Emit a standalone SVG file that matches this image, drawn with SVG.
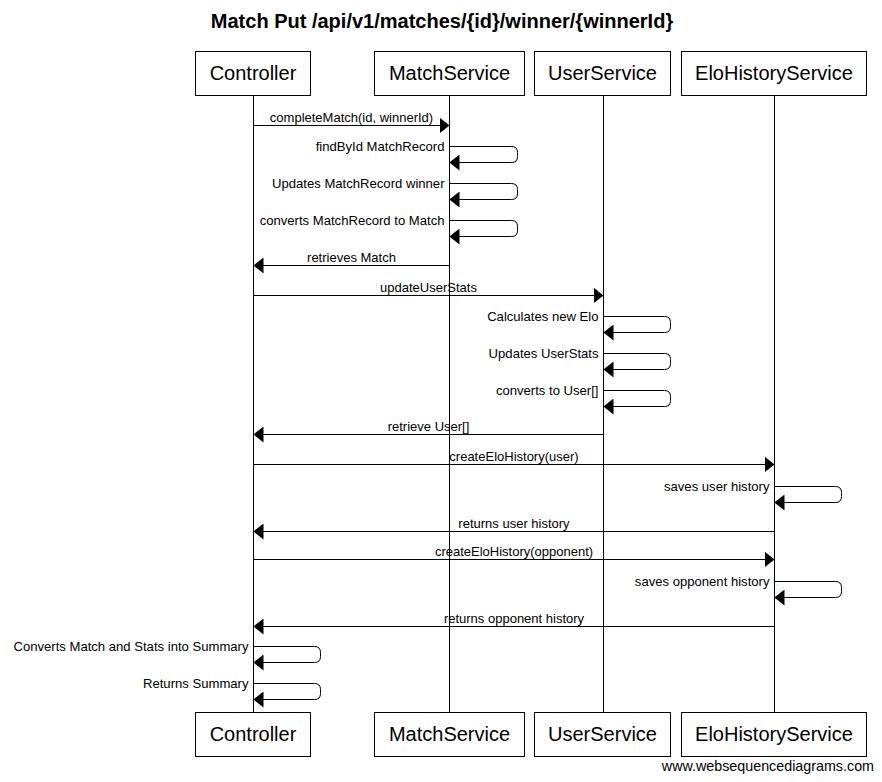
<svg xmlns="http://www.w3.org/2000/svg" width="882" height="782" viewBox="0 0 882 782">
<style>
.box{fill:#fff;stroke:#000;stroke-width:1}
.pt{font-family:"Liberation Sans",Arial,sans-serif;font-size:20px;text-anchor:middle;fill:#000}
.life{stroke:#000;stroke-width:1}
.msg{fill:none;stroke:#000;stroke-width:1;marker-end:url(#ah)}
.lbl{font-family:"Liberation Sans",Arial,sans-serif;font-size:13px;fill:#000;text-anchor:middle}
.sl{font-family:"Liberation Sans",Arial,sans-serif;font-size:13.1px;fill:#000;text-anchor:end}
.title{font-family:"Liberation Sans",Arial,sans-serif;font-size:20px;font-weight:bold;text-anchor:middle;fill:#000}
.foot{font-family:"Liberation Sans",Arial,sans-serif;font-size:14.3px;text-anchor:end;fill:#000}
</style>
<defs>
<marker id="ah" markerUnits="userSpaceOnUse" markerWidth="10" markerHeight="16" refX="10" refY="8" orient="auto" viewBox="0 0 10 16">
<path d="M0,0 L10,8 L0,16 Z" fill="#000"/>
</marker>
</defs>
<rect width="882" height="782" fill="#fff"/>
<text class="title" x="442" y="28">Match Put /api/v1/matches/{id}/winner/{winnerId}</text>
<g id="lifelines">
<line class="life" x1="253.5" y1="96" x2="253.5" y2="712"/>
<line class="life" x1="449.5" y1="96" x2="449.5" y2="712"/>
<line class="life" x1="603.5" y1="96" x2="603.5" y2="712"/>
<line class="life" x1="774.5" y1="96" x2="774.5" y2="712"/>
</g>
<g id="Controller">
<rect class="box" x="195.5" y="51.5" width="115" height="44"/>
<text class="pt" x="253" y="80">Controller</text>
<rect class="box" x="195.5" y="712.5" width="115" height="44"/>
<text class="pt" x="253" y="741">Controller</text>
</g>
<g id="MatchService">
<rect class="box" x="374.5" y="51.5" width="150" height="44"/>
<text class="pt" x="449.5" y="80">MatchService</text>
<rect class="box" x="374.5" y="712.5" width="150" height="44"/>
<text class="pt" x="449.5" y="741">MatchService</text>
</g>
<g id="UserService">
<rect class="box" x="534.5" y="51.5" width="136" height="44"/>
<text class="pt" x="602.5" y="80">UserService</text>
<rect class="box" x="534.5" y="712.5" width="136" height="44"/>
<text class="pt" x="602.5" y="741">UserService</text>
</g>
<g id="EloHistoryService">
<rect class="box" x="681.5" y="51.5" width="185" height="44"/>
<text class="pt" x="774" y="80">EloHistoryService</text>
<rect class="box" x="681.5" y="712.5" width="185" height="44"/>
<text class="pt" x="774" y="741">EloHistoryService</text>
</g>
<g id="connectors">
<path class="msg" d="M253.5,125.5 H449.5"/>
<text class="lbl" x="351.5" y="122">completeMatch(id, winnerId)</text>
<path class="msg" d="M449.5,146.5 H511.5 Q517.5,146.5 517.5,152.5 V156.5 Q517.5,162.5 511.5,162.5 H449.5"/>
<text class="sl" x="444.5" y="151">findById MatchRecord</text>
<path class="msg" d="M449.5,183.5 H511.5 Q517.5,183.5 517.5,189.5 V193.5 Q517.5,199.5 511.5,199.5 H449.5"/>
<text class="sl" x="444.5" y="188">Updates MatchRecord winner</text>
<path class="msg" d="M449.5,220.5 H511.5 Q517.5,220.5 517.5,226.5 V230.5 Q517.5,236.5 511.5,236.5 H449.5"/>
<text class="sl" x="444.5" y="225">converts MatchRecord to Match</text>
<path class="msg" d="M449.5,265.5 H253.5"/>
<text class="lbl" x="351.5" y="262">retrieves Match</text>
<path class="msg" d="M253.5,295.5 H603.5"/>
<text class="lbl" x="428.5" y="292">updateUserStats</text>
<path class="msg" d="M603.5,316.5 H664.5 Q670.5,316.5 670.5,322.5 V326.5 Q670.5,332.5 664.5,332.5 H603.5"/>
<text class="sl" x="598.5" y="321">Calculates new Elo</text>
<path class="msg" d="M603.5,353.5 H664.5 Q670.5,353.5 670.5,359.5 V363.5 Q670.5,369.5 664.5,369.5 H603.5"/>
<text class="sl" x="598.5" y="358">Updates UserStats</text>
<path class="msg" d="M603.5,390.5 H664.5 Q670.5,390.5 670.5,396.5 V400.5 Q670.5,406.5 664.5,406.5 H603.5"/>
<text class="sl" x="598.5" y="395">converts to User[]</text>
<path class="msg" d="M603.5,434.5 H253.5"/>
<text class="lbl" x="428.5" y="431">retrieve User[]</text>
<path class="msg" d="M253.5,464.5 H774.5"/>
<text class="lbl" x="514" y="461">createEloHistory(user)</text>
<path class="msg" d="M774.5,486.5 H835.5 Q841.5,486.5 841.5,492.5 V496.5 Q841.5,502.5 835.5,502.5 H774.5"/>
<text class="sl" x="769.5" y="491">saves user history</text>
<path class="msg" d="M774.5,531.5 H253.5"/>
<text class="lbl" x="514" y="528">returns user history</text>
<path class="msg" d="M253.5,559.5 H774.5"/>
<text class="lbl" x="514" y="556">createEloHistory(opponent)</text>
<path class="msg" d="M774.5,581.5 H835.5 Q841.5,581.5 841.5,587.5 V591.5 Q841.5,597.5 835.5,597.5 H774.5"/>
<text class="sl" x="769.5" y="586">saves opponent history</text>
<path class="msg" d="M774.5,626.5 H253.5"/>
<text class="lbl" x="514" y="623">returns opponent history</text>
<path class="msg" d="M253.5,646.5 H314.5 Q320.5,646.5 320.5,652.5 V656.5 Q320.5,662.5 314.5,662.5 H253.5"/>
<text class="sl" x="248.5" y="651">Converts Match and Stats into Summary</text>
<path class="msg" d="M253.5,683.5 H314.5 Q320.5,683.5 320.5,689.5 V693.5 Q320.5,699.5 314.5,699.5 H253.5"/>
<text class="sl" x="248.5" y="688">Returns Summary</text>
</g>
<text class="foot" x="874" y="771">www.websequencediagrams.com</text>
</svg>
